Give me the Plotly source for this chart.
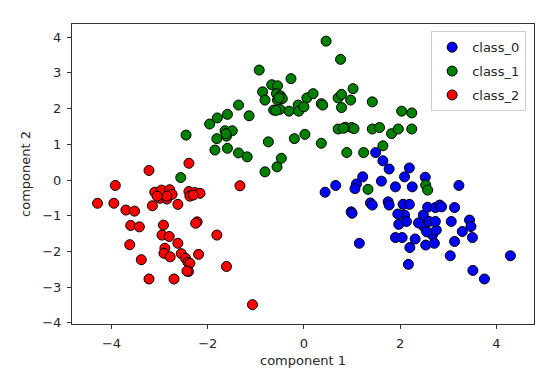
import plotly.graph_objects as go

class_names = ["class_0", "class_1", "class_2"]
colors = ["blue", "green", "red"]

class0_x = [1.49, 1.64, 1.77, 2.19, 2.09, 1.22, 1.09, 1.06, 0.66, 0.44, 1.61, 1.90, 2.25, 2.52, 3.22,
            0.98, 1.00, 1.38, 1.42, 1.75, 1.77, 1.15, 2.06, 2.19, 2.09, 2.13, 1.97, 1.90, 2.04, 2.20,
            2.17, 2.31, 2.44, 2.49, 2.48, 2.57, 2.60, 2.53, 2.67, 2.71, 2.75, 2.73, 2.73, 2.82, 2.86,
            3.06, 3.13, 3.13, 3.04, 3.29, 3.44, 3.47, 3.50, 3.51, 3.75, 4.29, 2.38, 2.55, 1.95]
class0_y = [0.77, 0.54, 0.31, 0.34, 0.09, 0.09, -0.11, -0.24, -0.15, -0.34, -0.03, -0.19, -0.19, 0.08, -0.15,
            -0.89, -0.93, -0.64, -0.70, -0.61, -0.70, -1.77, -0.68, -0.68, -0.98, -1.16, -1.24, -1.61, -1.61, -1.89,
            -2.36, -1.65, -1.19, -1.30, -0.98, -0.76, -1.16, -1.82, -1.54, -1.77, -1.40, -1.16, -0.77, -0.70, -0.75,
            -1.16, -0.77, -1.72, -2.12, -1.44, -1.12, -1.30, -1.61, -2.53, -2.77, -2.12, -1.20, -1.45, -0.95]

class1_x = [0.46, 0.76, -0.93, -0.27, -0.67, -0.55, -0.86, -0.81, -0.57, -0.49, -0.45, -0.55, -0.63, -0.50,
            -0.31, -0.12, -0.11, 0.06, 0.19, 0.36, 0.39, 0.71, 0.78, 0.78, 0.97, 1.02, 1.42, 2.03, 2.24,
            -1.36, -1.14, -1.59, -1.80, -1.96, -1.64, -1.49, -1.81, -1.61, -2.45, -1.85, -1.59, -1.36, -1.18,
            -0.74, -0.81, -0.56, -0.47, -0.20, 0.02, 0.36, 0.71, 0.86, 0.99, 1.04, 0.89, 1.24, 1.42, 1.57,
            1.64, 1.82, 1.96, 2.24, 1.33, 2.53, 2.57, -2.56, -0.52, 0.00, -1.62, 0.82, -0.58]
class1_y = [3.89, 3.38, 3.08, 2.84, 2.67, 2.64, 2.47, 2.24, 2.42, 2.36, 2.28, 2.24, 1.96, 1.98,
            1.93, 2.10, 1.93, 2.30, 2.42, 2.14, 2.10, 2.30, 2.40, 2.03, 2.24, 2.56, 2.19, 1.93, 1.88,
            2.10, 1.80, 1.84, 1.74, 1.57, 1.38, 1.38, 1.16, 1.23, 1.26, 0.84, 0.89, 0.76, 0.65,
            1.07, 0.23, 0.37, 0.61, 1.16, 1.28, 1.03, 1.43, 1.48, 1.47, 1.44, 0.77, 0.77, 1.43, 1.47,
            0.96, 1.30, 1.43, 1.43, -0.26, -0.14, -0.28, 0.07, 2.30, 2.05, 1.30, 1.45, 1.95]

class2_x = [-4.29, -3.95, -3.92, -3.70, -3.52, -3.60, -3.42, -3.62, -3.38, -3.22, -3.22, -3.15, -3.10, -2.96,
            -2.99, -2.85, -2.79, -2.74, -2.62, -2.92, -2.95, -2.80, -2.89, -2.91, -2.78, -2.62, -2.55, -2.46,
            -2.41, -2.37, -2.40, -2.70, -2.39, -2.39, -2.37, -2.27, -2.16, -2.22, -2.25, -2.19, -1.81, -1.61,
            -1.33, -1.07, -2.85, -2.43, -3.05, -2.30]
class2_y = [-0.65, -0.65, -0.15, -0.84, -0.87, -1.27, -1.31, -1.81, -2.23, -2.77, 0.27, -0.72, -0.34, -0.28,
            -0.51, -0.53, -0.27, -0.40, -0.68, -1.26, -1.54, -1.58, -1.91, -2.05, -2.15, -1.77, -2.06, -2.19,
            -2.30, -2.33, -2.56, -2.77, 0.47, -0.32, -0.45, -0.35, -0.37, -1.17, -1.21, -2.08, -1.54, -2.42,
            -0.16, -3.49, -0.45, -2.55, -0.45, -0.42]

xs = [class0_x, class1_x, class2_x]
ys = [class0_y, class1_y, class2_y]

fig = go.Figure()
for name, c, x, y in zip(class_names, colors, xs, ys):
    fig.add_trace(go.Scatter(
        x=x, y=y, mode="markers", name=name, legendgroup=name,
        marker=dict(color=c, size=10, line=dict(color="black", width=1)),
    ))

font_main = dict(family="DejaVu Sans", size=13, color="#262626")
axis_common = dict(
    showgrid=False, zeroline=False, showline=True, linecolor="#333333", linewidth=1,
    mirror=True, ticks="outside", ticklen=4, tickcolor="#333333",
    tickfont=font_main, ticklabelstandoff=3,
)
fig.update_xaxes(range=[-4.82, 4.78], tickvals=[-4, -2, 0, 2, 4],
                 ticktext=["\u22124", "\u22122", "0", "2", "4"],
                 title=dict(text="component 1", font=font_main, standoff=6),
                 **axis_common)
fig.update_yaxes(range=[-4.03, 4.37], tickvals=[-4, -3, -2, -1, 0, 1, 2, 3, 4],
                 ticktext=["\u22124", "\u22123", "\u22122", "\u22121", "0", "1", "2", "3", "4"],
                 title=dict(text="component 2", font=font_main, standoff=8),
                 **axis_common)

fig.update_layout(
    width=549, height=376,
    margin=dict(l=64, r=23, t=16, b=60),
    plot_bgcolor="white", paper_bgcolor="white",
    legend=dict(x=0.983, y=0.976, xanchor="right", yanchor="top",
                bgcolor="white", bordercolor="#cccccc", borderwidth=1,
                tracegroupgap=4, font=font_main),
)

fig.write_html("out.html")
